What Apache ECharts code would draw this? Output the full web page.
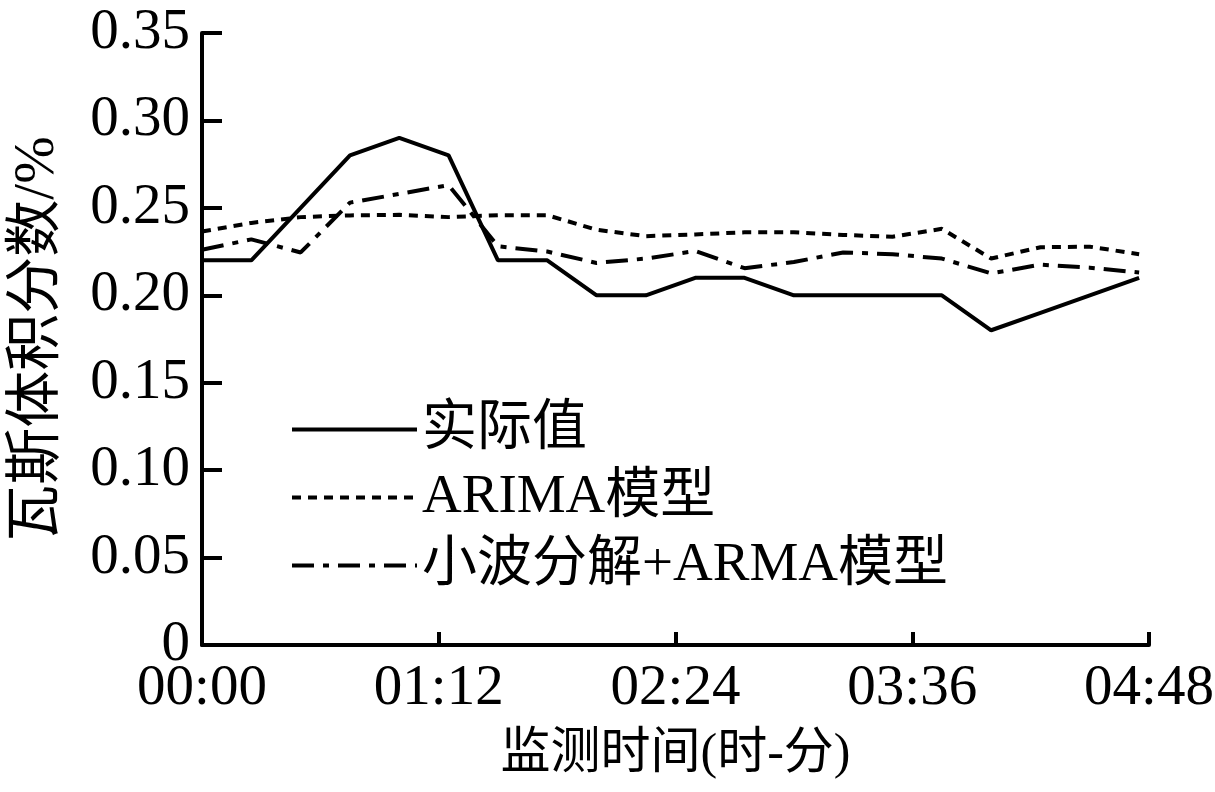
<!DOCTYPE html>
<html>
<head>
<meta charset="utf-8">
<script src="https://cdn.jsdelivr.net/npm/echarts@6/dist/echarts.min.js"></script>
<style>
html, body { margin: 0; padding: 0; background: #fff; }
#main { width: 1215px; height: 792px; }
</style>
</head>
<body>
<div id="main"></div>
<script>
// 监测时刻(分钟)
var minutes = [0, 15, 30, 45, 60, 75, 90, 105, 120, 135, 150, 165, 180, 195, 210, 225, 240, 255, 270, 285];
// 实际值
var actual = [0.22, 0.22, 0.25, 0.28, 0.29, 0.28, 0.22, 0.22, 0.20, 0.20, 0.21, 0.21, 0.20, 0.20, 0.20, 0.20, 0.18, 0.19, 0.20, 0.21];
// ARIMA模型
var arima = [0.2365, 0.2414, 0.2447, 0.2457, 0.246, 0.2447, 0.2458, 0.2458, 0.2375, 0.2338, 0.2348, 0.236, 0.236, 0.2345, 0.2335, 0.238, 0.221, 0.2275, 0.2278, 0.2235];
// 小波分解+ARMA模型
var wavelet = [0.226, 0.232, 0.2245, 0.253, 0.258, 0.263, 0.228, 0.225, 0.2185, 0.221, 0.2253, 0.2155, 0.219, 0.2245, 0.2235, 0.221, 0.2125, 0.2175, 0.2158, 0.213];
var seriesNames = ['实际值', 'ARIMA模型', '小波分解+ARMA模型'];

var font = '"Liberation Serif", "Noto Sans CJK SC", serif';

function pairs(vals) {
    return vals.map(function (v, i) {
        return [minutes[i], v];
    });
}

function hm(m) {
    var h = Math.floor(m / 60), mm = m % 60;
    return (h < 10 ? '0' : '') + h + ':' + (mm < 10 ? '0' : '') + mm;
}

var chartDom = document.getElementById('main');
var myChart = echarts.init(chartDom);
var option = {
    backgroundColor: '#fff',
    animation: false,
    grid: {
        left: 202,
        right: 66,
        top: 33,
        bottom: 147,
        containLabel: false,
        outerBoundsMode: 'none'
    },
    legend: {
        orient: 'vertical',
        left: 285,
        top: 397,
        itemWidth: 125,
        itemHeight: 14,
        itemGap: 13,
        data: seriesNames,
        itemStyle: { opacity: 0 },
        lineStyle: { width: 4 },
        textStyle: {
            fontFamily: font,
            fontSize: 55,
            color: '#000'
        }
    },
    xAxis: {
        type: 'value',
        min: 0,
        max: 288,
        interval: 72,
        name: '监测时间(时-分)',
        nameLocation: 'middle',
        nameGap: 85,
        nameTextStyle: {
            fontFamily: font,
            fontSize: 50,
            color: '#000'
        },
        axisLine: {
            lineStyle: { color: '#000', width: 4 }
        },
        axisTick: {
            inside: true,
            length: 13,
            lineStyle: { color: '#000', width: 4 }
        },
        axisLabel: {
            margin: 16,
            fontFamily: font,
            fontSize: 57,
            color: '#000',
            formatter: function (v) { return hm(v); }
        },
        splitLine: { show: false }
    },
    yAxis: {
        type: 'value',
        min: 0,
        max: 0.35,
        interval: 0.05,
        name: '瓦斯体积分数/%',
        nameLocation: 'middle',
        nameGap: 135,
        nameTextStyle: {
            fontFamily: font,
            fontSize: 57,
            color: '#000'
        },
        axisLine: {
            show: true,
            lineStyle: { color: '#000', width: 4 }
        },
        axisTick: {
            show: true,
            inside: true,
            length: 20,
            lineStyle: { color: '#000', width: 4 }
        },
        axisLabel: {
            margin: 12,
            fontFamily: font,
            fontSize: 57,
            color: '#000',
            formatter: function (v) { return v === 0 ? '0' : v.toFixed(2); }
        },
        splitLine: { show: false }
    },
    series: [
        {
            name: seriesNames[0],
            type: 'line',
            symbol: 'none',
            data: pairs(actual),
            lineStyle: { color: '#000', width: 4, type: 'solid' },
            itemStyle: { color: '#000' }
        },
        {
            name: seriesNames[1],
            type: 'line',
            symbol: 'none',
            data: pairs(arima),
            lineStyle: { color: '#000', width: 4, type: [9, 7] },
            itemStyle: { color: '#000' }
        },
        {
            name: seriesNames[2],
            type: 'line',
            symbol: 'none',
            data: pairs(wavelet),
            lineStyle: { color: '#000', width: 4, type: [22, 9, 6, 9] },
            itemStyle: { color: '#000' }
        }
    ]
};
option && myChart.setOption(option);
</script>
</body>
</html>
